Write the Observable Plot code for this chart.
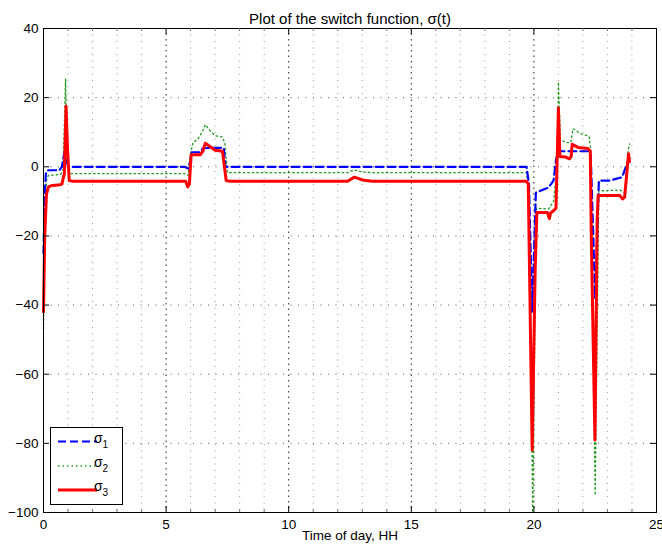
<!DOCTYPE html>
<html>
<head>
<meta charset="utf-8">
<script src="https://cdn.jsdelivr.net/npm/d3@7"></script>
<script src="https://cdn.jsdelivr.net/npm/@observablehq/plot@0.6"></script>
<style>
  html, body { margin: 0; padding: 0; background: #fff; }
  #chart { width: 662px; height: 547px; }
</style>
</head>
<body>
<div id="chart"></div>
<script>
// ---- data ----
const titleText = "Plot of the switch function, \u03c3(t)";
const xLabelText = "Time of day, HH";
const xTicks = [0, 5, 10, 15, 20, 25];
const xMinorTicks = [1,2,3,4,6,7,8,9,11,12,13,14,16,17,18,19,21,22,23,24];
const yTicks = [-100, -80, -60, -40, -20, 0, 20, 40];
const seriesNames = ["\u03c3", "\u03c3", "\u03c3"];
const seriesSubs = ["1", "2", "3"];

// sigma 1 (blue dashed)
const sigma1T = [0, 0.05, 0.1, 0.2, 0.65, 0.75, 0.85, 0.95, 1.05, 5.75, 5.9, 6.0, 6.05, 6.4, 6.5, 7.35, 7.42, 19.7, 19.8, 19.93, 20.08, 20.6, 20.8, 20.9, 21.0, 21.1, 22.25, 22.32, 22.5, 22.65, 23.1, 23.6, 23.75, 23.88];
const sigma1V = [-25, -8, -1.5, -1, -1, 0, 4, 1, 0, 0, -0.5, 2, 4.2, 4.2, 5.4, 5.5, 0, 0, -5, -42, -7.5, -6, -4, 1.8, 5, 4.5, 4.5, 3, -38, -4, -4, -3, 0, 2];

// sigma 2 (green dotted)
const sigma2T = [0, 0.05, 0.12, 0.2, 0.7, 0.8, 0.9, 0.96, 1.05, 1.2, 5.8, 5.9, 6.0, 6.1, 6.3, 6.5, 6.6, 6.75, 7.0, 7.3, 7.4, 7.5, 12.4, 12.65, 13.0, 13.4, 19.7, 19.8, 19.95, 20.1, 20.6, 20.8, 20.95, 21.0, 21.08, 21.3, 21.5, 21.6, 21.9, 22.25, 22.32, 22.5, 22.65, 23.5, 23.7, 23.85, 23.9];
const sigma2V = [-47, -20, -4, -2.5, -2.2, -1, 25.5, 5, -2, -2, -2, -2.5, 4, 7, 8, 10.5, 12.2, 10.8, 9, 8.6, 6.7, -1.7, -1.7, -0.9, -1.5, -1.7, -1.7, -8, -100, -12, -12.2, -10, 0, 24.5, 8, 7, 7, 11, 9.6, 8.8, 5, -95, -7, -6.7, -7.5, 5, 6.6];

// sigma 3 (red solid)
const sigma3T = [0, 0.05, 0.12, 0.2, 0.35, 0.6, 0.75, 0.85, 0.92, 0.98, 1.05, 1.2, 5.8, 5.88, 5.95, 6.02, 6.4, 6.5, 6.6, 6.8, 7.0, 7.3, 7.38, 7.45, 7.6, 12.4, 12.68, 13.0, 13.4, 19.7, 19.77, 19.93, 20.05, 20.12, 20.55, 20.63, 20.68, 20.83, 20.9, 21.0, 21.06, 21.3, 21.45, 21.52, 21.56, 21.8, 22.2, 22.3, 22.34, 22.49, 22.58, 22.62, 23.5, 23.62, 23.7, 23.8, 23.86, 23.9];
const sigma3V = [-42, -20, -8, -5.8, -5.4, -5.3, -5, -2, 17.5, 5, -4, -4.2, -4.2, -5.8, -5, 3.5, 3.5, 4.5, 6.8, 5.8, 4.8, 4.5, 0, -4, -4.2, -4.2, -3, -3.8, -4.2, -4.2, -5, -82, -30, -13.2, -13.2, -15, -13.4, -12.5, -12, 17, 3, 2.8, 2.3, 3, 6.5, 5.6, 5.3, 4.5, -20, -79, -15, -8.3, -8.3, -9.3, -8.8, -1, 3.8, 1.5];

const zip = (t, v) => t.map((d, i) => ({t: d, v: v[i]}));
const s1 = zip(sigma1T, sigma1V);
const s2 = zip(sigma2T, sigma2V);
const s3 = zip(sigma3T, sigma3V);

const W = 662, H = 547;
const mL = 43, mR = 6, mT = 28, mB = 35;
const fw = W - mL - mR, fh = H - mT - mB;
const FONT = "'Liberation Sans', Arial, Helvetica, sans-serif";

const chart = Plot.plot({
  width: W,
  height: H,
  marginLeft: mL,
  marginRight: mR,
  marginTop: mT,
  marginBottom: mB,
  style: {fontFamily: FONT, fontSize: "13.5px", background: "#fff", color: "#000"},
  x: {domain: [0, 25]},
  y: {domain: [-100, 40]},
  marks: [
    // grid
    Plot.ruleX(xMinorTicks, {stroke: "#9a9a9a", strokeDasharray: "1,5.5", strokeWidth: 1}),
    Plot.ruleX(xTicks.slice(1, -1), {stroke: "#222", strokeDasharray: "1.5,4", strokeWidth: 1}),
    Plot.ruleY(yTicks.slice(1, -1), {stroke: "#555", strokeDasharray: "1,6.5", strokeWidth: 1}),
    // series
    Plot.line(s2, {x: "t", y: "v", stroke: "#1f9a1f", strokeWidth: 1.3, strokeDasharray: "1.5,3"}),
    Plot.line(s1, {x: "t", y: "v", stroke: "#0000ff", strokeWidth: 2.2, strokeDasharray: "8,4"}),
    Plot.line(s3, {x: "t", y: "v", stroke: "#ff0000", strokeWidth: 3}),
    // frame and inward ticks
    Plot.frame({stroke: "#000", strokeWidth: 1}),
    Plot.tickX(xTicks, {x: d => d, insetTop: fh - 6, stroke: "#000"}),
    Plot.tickX(xTicks, {x: d => d, insetBottom: fh - 6, stroke: "#000"}),
    Plot.tickX(xMinorTicks, {x: d => d, insetTop: fh - 3, stroke: "#777"}),
    Plot.tickX(xMinorTicks, {x: d => d, insetBottom: fh - 3, stroke: "#777"}),
    Plot.tickY(yTicks, {y: d => d, insetRight: fw - 6, stroke: "#000"}),
    Plot.tickY(yTicks, {y: d => d, insetLeft: fw - 6, stroke: "#000"}),
    // axes labels
    Plot.axisX({ticks: xTicks, tickSize: 0, tickPadding: 7, label: null}),
    Plot.axisY({ticks: yTicks, tickSize: 0, tickPadding: 5, label: null}),
    Plot.text([xLabelText], {frameAnchor: "bottom", dy: 27, fontSize: 13.5, fill: "#000"}),
    Plot.text([titleText], {frameAnchor: "top", dy: -15, fontSize: 15, fill: "#000"})
  ]
});

// legend inside the axes (bottom-left)
const svg = d3.select(chart);
const lg = svg.append("g").attr("font-family", FONT);
lg.append("rect").attr("x", 50.5).attr("y", 427.5).attr("width", 72).attr("height", 77)
  .attr("fill", "#fff").attr("stroke", "#000").attr("stroke-width", 1);
const styles = [
  {stroke: "#0000ff", w: 2.2, dash: "8,4"},
  {stroke: "#1f9a1f", w: 1.3, dash: "1.5,3"},
  {stroke: "#ff0000", w: 3, dash: null}
];
const rowY = [441.5, 466, 490];
seriesNames.forEach((name, i) => {
  const y = rowY[i];
  const ln = lg.append("line").attr("x1", 58).attr("x2", 97).attr("y1", y).attr("y2", y)
    .attr("stroke", styles[i].stroke).attr("stroke-width", styles[i].w);
  if (styles[i].dash) ln.attr("stroke-dasharray", styles[i].dash);
  const tx = lg.append("text").attr("x", 101).attr("y", y + 1).attr("font-size", 14).attr("fill", "#000");
  tx.append("tspan").text(name);
  tx.append("tspan").attr("font-size", 10).attr("dy", 5).text(seriesSubs[i]);
});

document.getElementById("chart").appendChild(chart);
</script>
</body>
</html>
